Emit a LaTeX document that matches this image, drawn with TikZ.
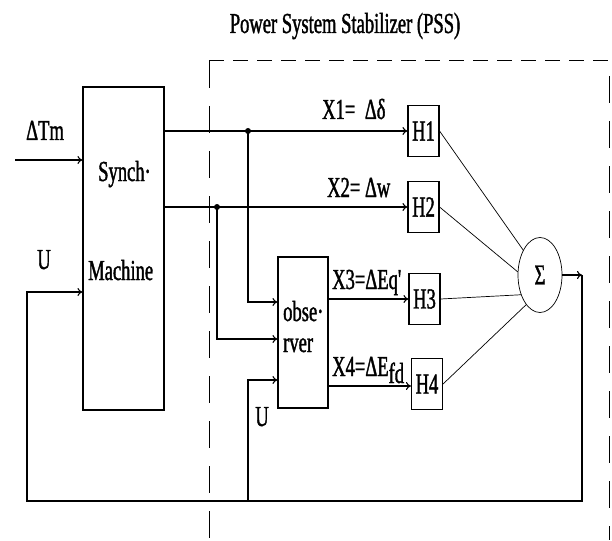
\documentclass[tikz,border=0pt]{standalone}
\usepackage{fontspec}
\usetikzlibrary{arrows.meta,shapes.geometric}
\newfontfamily\cf[FakeStretch=0.64,FakeBold=1.3]{Liberation Serif}
\begin{document}
\begin{tikzpicture}[x=1pt,y=-1pt,
  txt/.style={font=\cf\fontsize{29}{31}\selectfont, inner sep=0pt},
  lab/.style={txt, anchor=base west},
  blk/.style={draw, line width=1.1pt, inner sep=0pt},
  hbox/.style={blk, txt, minimum width=31pt, minimum height=51pt},
  conn/.style={line width=1.1pt},
  arr/.style={conn, -{To[length=5pt,width=8pt]}},
  sumline/.style={line width=0.7pt},
  dashh/.style={line width=1pt, dash pattern=on 15pt off 9pt},
  dashv/.style={line width=1pt, dash pattern=on 27pt off 18pt}]
\useasboundingbox (0,0) rectangle (612,540);

% title
\node[txt, anchor=base] (title) at (345,33) {Power System Stabilizer (PSS)};

% dashed PSS frame
\coordinate (tl) at (209,61);
\coordinate (tr) at (609,61);
\coordinate (bl) at (209,540);
\coordinate (br) at (609,540);
\draw[dashh] (tl) -- (tr);
\draw[dashv] (tl) -- (bl);
\draw[dashv, dash phase=30pt] (tr) -- (br);

% synchronous machine
\node[blk, minimum width=81pt, minimum height=323pt] (sm) at (123.5,248.5) {};
\node[lab] (synch) at (98,181) {Synch·};
\node[lab] (mach) at (88,280) {Machine};

% observer
\node[blk, minimum width=50pt, minimum height=151pt] (obs) at (303,332.5) {};
\node[lab] (obs1) at (283,321) {obse·};
\node[lab] (obs2) at (283,352) {rver};

% H blocks
\node[hbox] (h1) at (423.5,131) {H1};
\node[hbox] (h2) at (423.5,207) {H2};
\node[hbox] (h3) at (424.5,299) {H3};
\node[hbox] (h4) at (427,384) {H4};

% summation
\node[draw, ellipse, sumline, txt, minimum width=44pt, minimum height=75pt] (sig) at (540,275) {Σ};

% labels
\node[lab] (ltm) at (26,140) {ΔTm};
\node[txt, anchor=base] (lu1) at (44,269) {U};
\node[txt, anchor=base] (lu2) at (262,426) {U};
\node[lab] (lx1) at (322,119) {X1=\, Δδ};
\node[lab] (lx2) at (327,197) {X2= Δw};
\node[lab] (lx3) at (332,289) {X3=ΔEq'};
\node[lab] (lx4) at (332,376) {X4=ΔE\raisebox{-7pt}{fd}};

% helper coordinates
\coordinate (tm) at (15,160);
\coordinate (d1) at (248,131);
\coordinate (d2) at (217,207);
\coordinate (r1) at (0,302);
\coordinate (r2) at (0,339);
\coordinate (r3) at (0,380);
\coordinate (x4) at (0,386);
\coordinate (c1) at (582,275);
\coordinate (c2) at (582,501);
\coordinate (c3) at (27,501);
\coordinate (c4) at (27,292);
\coordinate (c5) at (248,501);

% connectors
\draw[arr] (tm) -- (tm -| sm.west);
\draw[arr] (sm.east |- d1) -- (h1.west);
\draw[arr] (sm.east |- d2) -- (h2.west);
\fill (d1) circle (3pt);
\fill (d2) circle (3pt);
\draw[arr] (d1) |- (obs.west |- r1);
\draw[arr] (d2) |- (obs.west |- r2);
\draw[arr] (c5) |- (obs.west |- r3);
\draw[arr] (obs.east |- h3.west) -- (h3.west);
\draw[arr] (obs.east |- x4) -- (h4.west |- x4);

\draw[sumline] (h1.east) -- (sig.124);
\draw[sumline] (h2.east) -- (sig.172);
\draw[sumline] (h3.east) -- (sig.226);
\draw[sumline] (h4.east) -- (sig.245);

\draw[arr] (sig.east) -- (c1);
\draw[arr] (c1) -- (c2) -- (c3) -- (c4) -- (c4 -| sm.west);
\end{tikzpicture}
\end{document}
